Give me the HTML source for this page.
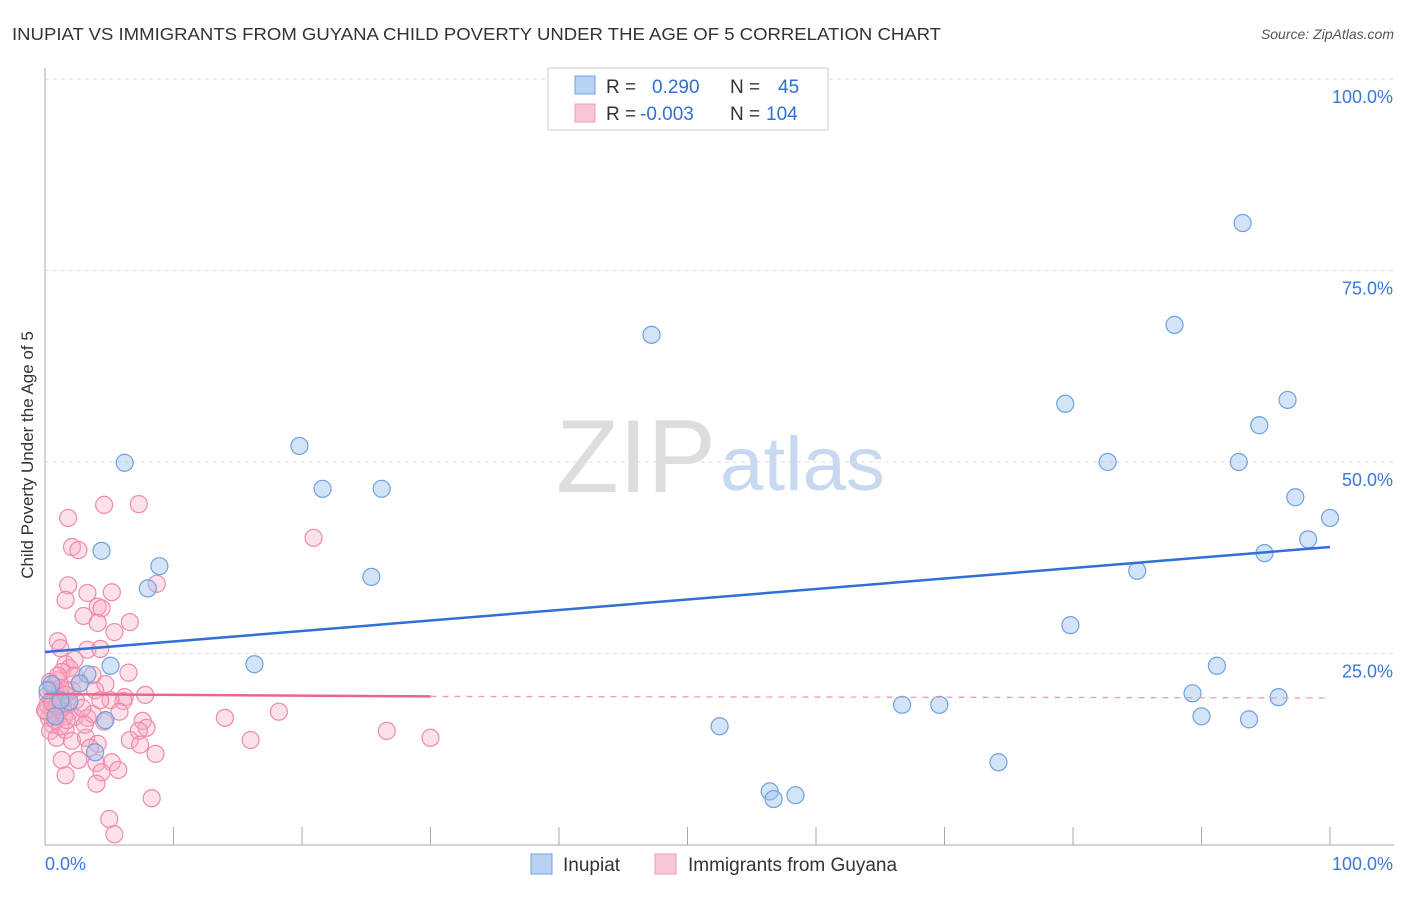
<!DOCTYPE html>
<html><head><meta charset="utf-8"><style>
body{margin:0;background:#fff;font-family:"Liberation Sans",sans-serif;}
svg text{font-family:"Liberation Sans",sans-serif;}
</style></head><body>
<svg id="chart" width="1406" height="892" xmlns="http://www.w3.org/2000/svg">
<text x="12" y="40" font-size="17.5" fill="#333" textLength="929" lengthAdjust="spacingAndGlyphs">INUPIAT VS IMMIGRANTS FROM GUYANA CHILD POVERTY UNDER THE AGE OF 5 CORRELATION CHART</text>
<text x="1394" y="39" font-size="14" fill="#555" font-style="italic" text-anchor="end">Source: ZipAtlas.com</text>
<text x="33" y="455" font-size="17" fill="#333" text-anchor="middle" transform="rotate(-90 33 455)">Child Poverty Under the Age of 5</text>
<text x="716" y="492" font-size="104" fill="#ddd" text-anchor="end" font-family="Liberation Serif,serif" textLength="160" lengthAdjust="spacingAndGlyphs">ZIP</text>
<text x="720" y="490" font-size="76" fill="#c8d8f0" textLength="165" lengthAdjust="spacingAndGlyphs">atlas</text>
<g id="grid"></g><g id="pts"></g><g id="lines"></g>
<g>
<rect x="548" y="68" width="280" height="62" fill="#fff" stroke="#ccc"/>
<rect x="575" y="76" width="20" height="18" fill="#b8d2f4" stroke="#6fa0e0"/>
<rect x="575" y="104" width="20" height="18" fill="#f9c6d6" stroke="#f09ab4"/>
<text x="606" y="93" font-size="19" fill="#333">R = <tspan fill="#2f6fd6" x="652">0.290</tspan><tspan fill="#333" x="730">N =</tspan><tspan fill="#2f6fd6" x="778">45</tspan></text>
<text x="606" y="120" font-size="19" fill="#333">R = <tspan fill="#2f6fd6" x="640">-0.003</tspan><tspan fill="#333" x="730">N =</tspan><tspan fill="#2f6fd6" x="766">104</tspan></text>
</g>
<g>
<rect x="531" y="854" width="21" height="20" fill="#b8d2f4" stroke="#6fa0e0"/>
<text x="563" y="871" font-size="19" fill="#333">Inupiat</text>
<rect x="655" y="854" width="21" height="20" fill="#f9c6d6" stroke="#f09ab4"/>
<text x="688" y="871" font-size="19" fill="#333">Immigrants from Guyana</text>
</g>
<text x="45" y="870" font-size="18" fill="#3a78d8">0.0%</text>
<text x="1393" y="870" font-size="18" fill="#3a78d8" text-anchor="end">100.0%</text>
</svg>
<script>
const yTicks=[100,75,50,25];
const yTickLabels=["100.0%","75.0%","50.0%","25.0%"];
const xTicks=[0,10,20,30,40,50,60,70,80,90,100];
const inupiatX=[6.2,4.4,8.9,8.0,5.1,3.3,4.7,3.9,16.3,19.8,21.6,26.2,25.4,47.2,52.5,56.4,56.7,58.4,66.7,69.6,74.2,79.4,79.8,82.7,85.0,87.9,89.3,90.0,91.2,92.9,93.2,93.7,94.5,94.9,96.0,96.7,97.3,98.3,100.0,2.7,0.5,1.9,0.8,1.2,0.2];
const inupiatY=[49.9,38.4,36.4,33.5,23.4,22.3,16.3,12.1,23.6,52.1,46.5,46.5,35.0,66.6,15.5,7.0,6.0,6.5,18.3,18.3,10.8,57.6,28.7,50.0,35.8,67.9,19.8,16.8,23.4,50.0,81.2,16.4,54.8,38.1,19.3,58.1,45.4,39.9,42.7,21.1,21.0,18.7,16.8,18.9,20.2];
const guyanaX=[1.8,4.6,7.3,2.1,2.6,1.8,1.6,3.3,5.2,8.7,4.1,4.4,3.0,4.1,6.6,5.4,1.0,1.2,3.3,4.3,1.6,1.9,1.3,2.3,6.5,0.9,2.7,4.7,3.9,6.2,7.8,6.1,0.5,0.2,1.0,1.3,1.8,0.5,0.9,0.3,1.5,1.9,2.3,3.3,3.7,4.6,7.6,7.9,7.3,0.6,0.4,0.9,1.6,2.1,3.2,4.1,3.5,1.3,2.6,4.0,5.2,8.6,4.4,5.7,1.6,4.0,8.3,5.0,5.4,14.0,16.0,18.2,20.9,26.6,30.0,0.7,1.1,1.4,2.1,2.4,2.9,0.2,0.5,0.1,0.8,1.2,3.1,5.1,5.8,6.6,7.4,1.6,0.4,1.0,2.3,3.7,4.3,0.0,0.9,1.2,1.7,0.6,1.6];
const guyanaY=[42.7,44.4,44.5,38.9,38.5,33.9,32.0,32.9,33.0,34.1,31.1,30.9,29.9,29.0,29.1,27.8,26.6,25.7,25.5,25.6,23.6,23.1,22.6,22.1,22.5,21.5,21.1,21.0,20.2,19.3,19.6,18.8,20.2,19.6,19.3,18.7,18.3,17.6,17.2,16.6,16.8,17.4,16.7,16.6,17.1,16.1,16.2,15.3,14.9,15.7,14.9,14.0,15.0,13.6,14.0,13.2,12.7,11.1,11.1,10.7,10.8,11.9,9.5,9.8,9.1,8.0,6.1,3.4,1.4,16.6,13.7,17.4,40.1,14.9,14.0,20.8,19.8,18.0,20.2,18.9,17.9,18.3,18.9,17.4,16.3,15.5,15.7,18.9,17.4,13.7,13.1,20.2,21.3,22.1,24.2,22.2,18.9,17.6,18.1,20.5,16.3,18.5,19.6];
const inupiatTrend=[25.2,38.9];
const guyanaTrend=[19.7,19.4,19.2];
const X0=45,X1=1330,Y0=845,Y100=79;
const sx=v=>X0+(X1-X0)*v/100, sy=v=>Y0-(Y0-Y100)*v/100;
const NS="http://www.w3.org/2000/svg";
function mk(p,t,a){const e=document.createElementNS(NS,t);for(const k in a)e.setAttribute(k,a[k]);p.appendChild(e);return e;}
const grid=document.getElementById('grid');
yTicks.forEach((v,i)=>{
 const l=mk(grid,'line',{x1:X0,x2:1394,y1:sy(v),y2:sy(v),stroke:'#ddd','stroke-dasharray':'4,4'});
 
 
 const t=mk(grid,'text',{x:1393,y:sy(v)+24,'font-size':18,fill:'#3a78d8','text-anchor':'end'});
 t.textContent=yTickLabels[i];
 
 
});
const ax=mk(grid,'line',{x1:X0,x2:X0,y1:68,y2:Y0,stroke:'#aaa'});


const bx=mk(grid,'line',{x1:X0,x2:1394,y1:Y0,y2:Y0,stroke:'#aaa'});


xTicks.forEach(v=>{const t=mk(grid,'line',{x1:sx(v),x2:sx(v),y1:827,y2:Y0,stroke:'#aaa'});
 
 });
const pts=document.getElementById('pts');
guyanaX.forEach((v,i)=>{const c=mk(pts,'circle',{cx:sx(v),cy:sy(guyanaY[i]),r:8.5,fill:'rgba(248,170,195,0.35)',stroke:'#f08aa8','stroke-width':1.2});
 
 });
inupiatX.forEach((v,i)=>{const c=mk(pts,'circle',{cx:sx(v),cy:sy(inupiatY[i]),r:8.5,fill:'rgba(160,196,240,0.45)',stroke:'#6fa0e0','stroke-width':1.2});
 
 });
const lines=document.getElementById('lines');
const bl=mk(lines,'line',{x1:sx(0),y1:sy(inupiatTrend[0]),x2:sx(100),y2:sy(inupiatTrend[1]),stroke:'#2f6fd6','stroke-width':2.5});


const pl=mk(lines,'line',{x1:sx(0),y1:sy(guyanaTrend[0]),x2:sx(30),y2:sy(guyanaTrend[1]),stroke:'#e8668e','stroke-width':2.5});


const pd=mk(lines,'line',{x1:sx(30),y1:sy(guyanaTrend[1]),x2:sx(100),y2:sy(guyanaTrend[2]),stroke:'#f09ab4','stroke-width':1.3,'stroke-dasharray':'6,6'});


</script>
</body></html>
